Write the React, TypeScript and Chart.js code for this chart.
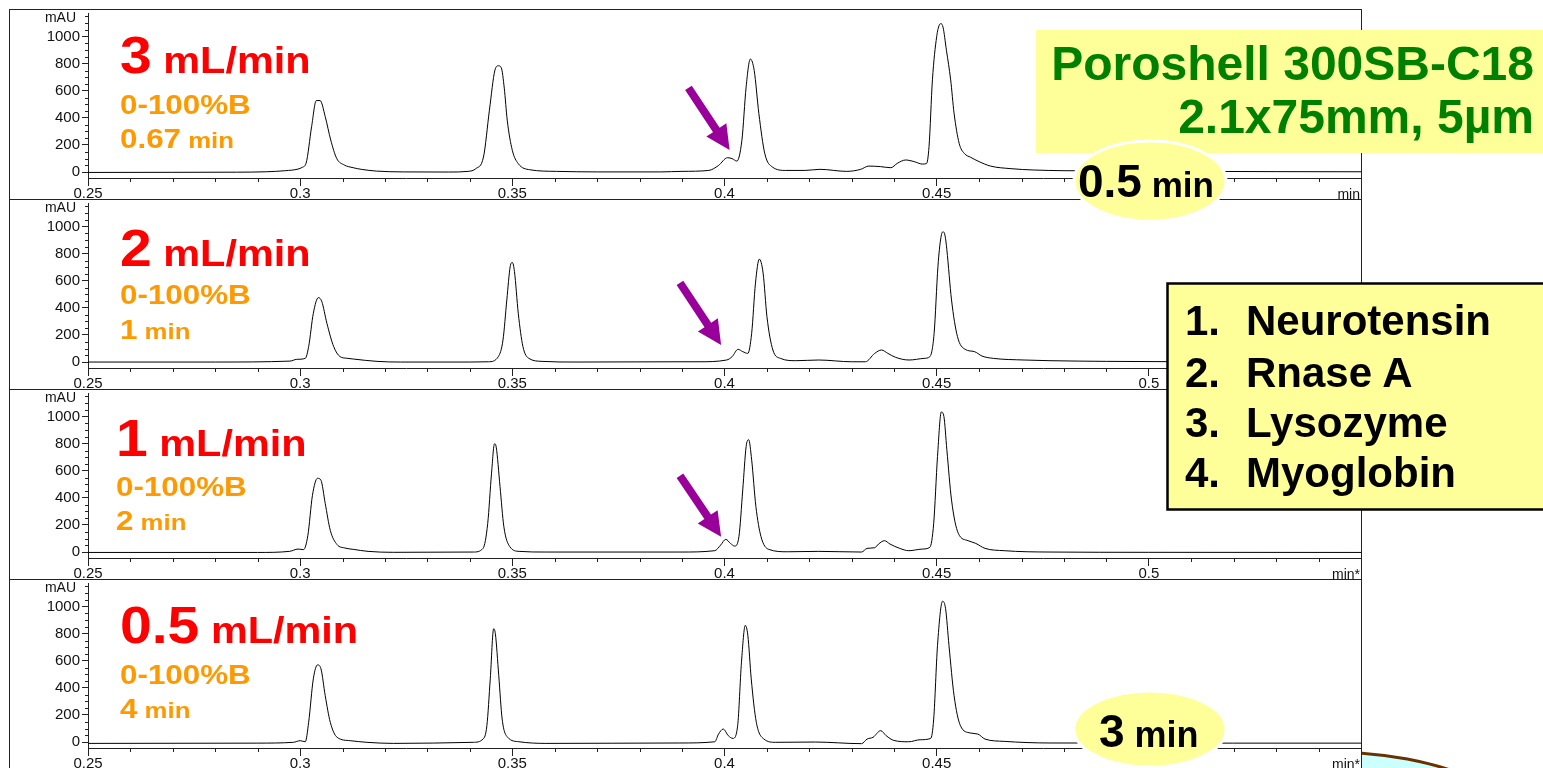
import React, { useEffect, useRef } from 'react';
import { Chart, registerables } from 'chart.js';

Chart.register(...registerables);

// ---------- data ----------
const xTickLabels = [0.25, 0.3, 0.35, 0.4, 0.45, 0.5];
const yTickLabels = [0, 200, 400, 600, 800, 1000];
const xMinorStep = 0.01;
const yMinorStep = 50;
const xMin = 0.25;
const xMax = 0.55;
const yMin = -44;
const yMax = 1175;
const yMinorTop = 1150;

// [time (min), signal (mAU)]
const trace3mL: number[][] = [
  [0.25, -3], [0.27, -2], [0.285, -1], [0.292, 2], [0.2965, 10], [0.2995, 22], [0.3005, 35], [0.3014, 66],
  [0.3027, 336], [0.3038, 528], [0.3047, 528], [0.3059, 410], [0.3072, 237], [0.3086, 101], [0.3104, 52],
  [0.3125, 32], [0.3144, 20], [0.318, 7], [0.3243, 1], [0.335, 0], [0.3396, 5], [0.3414, 25], [0.3432, 111],
  [0.3446, 457], [0.3459, 753], [0.3467, 785], [0.3474, 770], [0.3481, 620], [0.3488, 383], [0.35, 160],
  [0.3514, 62], [0.3541, 17], [0.3604, 5], [0.37, 1], [0.385, 1], [0.39, 5], [0.3963, 12], [0.3986, 49],
  [0.4007, 106], [0.4018, 99], [0.4029, 81], [0.4041, 235], [0.4051, 630], [0.4061, 835], [0.407, 750],
  [0.4081, 432], [0.4095, 136], [0.4113, 37], [0.4144, 12], [0.419, 12], [0.4225, 20], [0.4288, 5],
  [0.4321, 20], [0.434, 44], [0.4368, 40], [0.4392, 32], [0.4407, 64], [0.4427, 89], [0.4447, 77],
  [0.4466, 59], [0.4476, 62], [0.4482, 188], [0.449, 681], [0.45, 1000], [0.4506, 1085], [0.451, 1096],
  [0.4515, 1070], [0.4523, 900], [0.4533, 681], [0.4541, 435], [0.4553, 212], [0.4565, 138], [0.458, 109],
  [0.46, 77], [0.4627, 44], [0.4675, 25], [0.4729, 15], [0.48, 10], [0.49, 8], [0.51, 5], [0.53, 3], [0.55, 2],
];

const trace2mL: number[][] = [
  [0.25, 0], [0.28, 0], [0.2976, 7], [0.2992, 20], [0.3012, 27], [0.302, 114], [0.3031, 360], [0.3043, 476],
  [0.3051, 447], [0.3063, 286], [0.3079, 114], [0.3094, 40], [0.311, 28], [0.3126, 22], [0.3181, 5],
  [0.3236, 0], [0.34, 0], [0.3444, 2], [0.3467, 40], [0.3478, 163], [0.3487, 459], [0.3495, 706], [0.35, 736],
  [0.3505, 669], [0.3514, 360], [0.3525, 114], [0.3539, 27], [0.357, 5], [0.365, 0], [0.39, 2], [0.394, 2],
  [0.4005, 15], [0.4018, 40], [0.4032, 94], [0.4043, 77], [0.4055, 64], [0.4064, 212], [0.4073, 583],
  [0.4082, 760], [0.4091, 657], [0.41, 336], [0.4114, 89], [0.4132, 27], [0.4168, 10], [0.4222, 15],
  [0.43, 2], [0.4332, 2], [0.4354, 64], [0.437, 89], [0.4385, 64], [0.4403, 35], [0.4435, 15], [0.447, 27],
  [0.4484, 40], [0.4494, 212], [0.4503, 706], [0.451, 920], [0.4515, 963], [0.452, 930], [0.4524, 830],
  [0.4535, 459], [0.4549, 188], [0.4567, 94], [0.4589, 77], [0.4607, 44], [0.4634, 27], [0.4706, 15],
  [0.4767, 10], [0.49, 5], [0.51, 2], [0.55, 0],
];

const trace1mL: number[][] = [
  [0.25, -3], [0.29, -3], [0.2975, 5], [0.2995, 22], [0.3008, 18], [0.3018, 120], [0.3029, 420],
  [0.3041, 545], [0.3049, 530], [0.3059, 360], [0.3071, 160], [0.3087, 55], [0.3105, 30], [0.3125, 20],
  [0.316, 5], [0.322, -2], [0.3408, 0], [0.3431, 27], [0.3442, 212], [0.3451, 583], [0.3458, 800],
  [0.3462, 775], [0.3471, 484], [0.348, 188], [0.3494, 40], [0.3516, 5], [0.3579, 0], [0.3895, 0],
  [0.3977, 10], [0.3991, 52], [0.4003, 94], [0.4014, 64], [0.4024, 44], [0.4034, 114], [0.4043, 459],
  [0.4051, 780], [0.4057, 830], [0.4064, 681], [0.4074, 336], [0.4086, 114], [0.4104, 20], [0.4149, 2],
  [0.4221, 5], [0.4323, 0], [0.4336, 27], [0.4354, 32], [0.4363, 59], [0.4377, 84], [0.439, 59],
  [0.4413, 27], [0.4434, 10], [0.4466, 22], [0.4484, 35], [0.4493, 212], [0.4502, 706], [0.4511, 1035],
  [0.4517, 1002], [0.4524, 756], [0.4535, 385], [0.4551, 138], [0.4574, 84], [0.4592, 64], [0.4614, 27],
  [0.4659, 10], [0.4767, 0], [0.5, -2], [0.55, -3],
];

const trace05mL: number[][] = [
  [0.25, -10], [0.29, -8], [0.2984, -2], [0.3, 10], [0.3012, 2], [0.302, 146], [0.3031, 467], [0.3041, 570],
  [0.3049, 541], [0.3059, 343], [0.3071, 146], [0.3087, 35], [0.3118, 10], [0.3157, -2], [0.322, -10],
  [0.3408, -2], [0.3431, 22], [0.344, 121], [0.3448, 467], [0.3456, 837], [0.346, 800], [0.3468, 491],
  [0.3476, 170], [0.3489, 35], [0.3516, 2], [0.3579, -10], [0.3895, -7], [0.3977, 2], [0.3986, 59],
  [0.3997, 96], [0.4009, 47], [0.402, 27], [0.4031, 121], [0.404, 590], [0.4049, 862], [0.4055, 788],
  [0.4063, 467], [0.4075, 146], [0.4093, 22], [0.412, -2], [0.4214, 0], [0.4323, -12], [0.4336, 22],
  [0.435, 35], [0.4368, 84], [0.4381, 47], [0.4399, 12], [0.4434, 2], [0.4461, 17], [0.4486, 27],
  [0.4493, 170], [0.4502, 714], [0.4514, 1040], [0.4521, 985], [0.4529, 714], [0.4541, 343], [0.4556, 121],
  [0.4579, 67], [0.4597, 59], [0.4614, 22], [0.4659, 5], [0.4767, -7], [0.52, -8], [0.55, -8],
];

// purple arrows: [tail, tip] in (time, mAU)
const arrow3mL: number[][] = [[0.3915, 622], [0.4012, 163]];
const arrow2mL: number[][] = [[0.3895, 585], [0.3992, 126]];
const arrow1mL: number[][] = [[0.3895, 563], [0.3992, 113]];

const flowRates = ['3', '2', '1', '0.5'];
const gradientTimes = ['0.67', '1', '2', '4'];
const gradientLabel = '0-100%B';
const timeUnits = ['min', 'min*', 'min*', 'min*'];
const compounds = ['Neurotensin', 'Rnase A', 'Lysozyme', 'Myoglobin'];
const columnLines = ['Poroshell 300SB-C18', '2.1x75mm, 5µm'];
const runTimes = ['0.5', '3'];

const traces = [trace3mL, trace2mL, trace1mL, trace05mL];
const arrows = [arrow3mL, arrow2mL, arrow1mL, null];

// ---------- layout ----------
const FONT = "'Liberation Sans', Arial, Helvetica, sans-serif";
const PANEL_H = 190;
const CANVAS_W = 1351;
const CANVAS_H = 189;
const textLeft = [120, 120, 116, 120];
const textBaselines = [[73, 114, 148], [266, 304, 339], [456, 496, 530], [643, 684, 718]];

const near = (a: number, b: number) => Math.abs(a - b) < 1e-6;
const isMajorX = (v: number) => xTickLabels.some((t) => near(t, v));
const isMajorY = (v: number) => yTickLabels.some((t) => near(t, v));

const stepTicks = (min: number, max: number, step: number) => {
  const out: { value: number }[] = [];
  const n = Math.round((max - min) / step);
  for (let i = 0; i <= n; i++) out.push({ value: +(min + i * step).toFixed(6) });
  return out;
};

const extrasPlugin = {
  id: 'extras',
  afterDraw(chart: any) {
    const ctx = chart.ctx;
    const xs = chart.scales.x;
    const ys = chart.scales.y;
    const area = chart.chartArea;
    const opts = chart.options.plugins.extras || {};
    ctx.save();
    ctx.strokeStyle = '#222';
    ctx.lineWidth = 1;
    ctx.beginPath();
    xs.ticks.forEach((t: any) => {
      if (!isMajorX(t.value)) {
        const px = Math.round(xs.getPixelForValue(t.value)) + 0.5;
        ctx.moveTo(px, area.bottom);
        ctx.lineTo(px, area.bottom + 4);
      }
    });
    ys.ticks.forEach((t: any) => {
      if (!isMajorY(t.value)) {
        const py = Math.round(ys.getPixelForValue(t.value)) + 0.5;
        ctx.moveTo(area.left - 3, py);
        ctx.lineTo(area.left, py);
      }
    });
    ctx.stroke();

    ctx.fillStyle = '#111';
    ctx.font = `14px ${FONT}`;
    ctx.textAlign = 'right';
    ctx.textBaseline = 'middle';
    ctx.fillText('mAU', area.left - 12, area.top + 5);
    ctx.fillText(opts.unit || 'min', area.right - 1, area.bottom + 17);

    const arrow = opts.arrow;
    if (arrow) {
      const x0 = xs.getPixelForValue(arrow[0][0]);
      const y0 = ys.getPixelForValue(arrow[0][1]);
      const x1 = xs.getPixelForValue(arrow[1][0]);
      const y1 = ys.getPixelForValue(arrow[1][1]);
      const dx = x1 - x0;
      const dy = y1 - y0;
      const len = Math.hypot(dx, dy);
      const ux = dx / len;
      const uy = dy / len;
      const nx = -uy;
      const ny = ux;
      const hl = 24;
      const hw = 12;
      const sw = 4;
      const bx = x1 - ux * hl;
      const by = y1 - uy * hl;
      ctx.fillStyle = '#990099';
      ctx.beginPath();
      ctx.moveTo(x0 + nx * sw, y0 + ny * sw);
      ctx.lineTo(bx + nx * sw, by + ny * sw);
      ctx.lineTo(bx + nx * hw, by + ny * hw);
      ctx.lineTo(x1, y1);
      ctx.lineTo(bx - nx * hw, by - ny * hw);
      ctx.lineTo(bx - nx * sw, by - ny * sw);
      ctx.lineTo(x0 - nx * sw, y0 - ny * sw);
      ctx.closePath();
      ctx.fill();
    }
    ctx.restore();
  },
};

function Panel({ index }: { index: number }) {
  const ref = useRef<HTMLCanvasElement | null>(null);
  useEffect(() => {
    if (!ref.current) return;
    const tickFont = { family: FONT, size: 15 };
    const chart = new Chart(ref.current, {
      type: 'line',
      data: {
        datasets: [
          {
            data: traces[index].map(([x, y]) => ({ x, y })),
            borderColor: '#000',
            borderWidth: 1,
            pointRadius: 0,
            cubicInterpolationMode: 'monotone',
            fill: false,
          },
        ],
      },
      options: {
        animation: false,
        responsive: false,
        maintainAspectRatio: false,
        devicePixelRatio: 1,
        layout: { padding: { top: 3, left: 0, right: 0, bottom: 0 } },
        plugins: {
          legend: { display: false },
          tooltip: { enabled: false },
          extras: { unit: timeUnits[index], arrow: arrows[index] },
        } as any,
        scales: {
          x: {
            type: 'linear',
            min: xMin,
            max: xMax,
            afterBuildTicks: (s: any) => {
              s.ticks = stepTicks(xMin, xMax, xMinorStep);
            },
            afterFit: (s: any) => {
              s.height = 21;
              s.paddingLeft = 0;
              s.paddingRight = 0;
            },
            border: { display: true, color: '#222', width: 1 },
            grid: {
              drawOnChartArea: false,
              drawTicks: true,
              tickLength: 8,
              tickColor: (c: any) => (c.tick && isMajorX(c.tick.value) ? '#222' : 'rgba(0,0,0,0)'),
            },
            ticks: {
              autoSkip: false,
              maxRotation: 0,
              minRotation: 0,
              padding: -1,
              color: '#111',
              font: tickFont,
              callback: (v: any) => {
                const m = xTickLabels.find((t) => near(t, Number(v)));
                return m === undefined ? '' : String(m);
              },
            },
          },
          y: {
            type: 'linear',
            min: yMin,
            max: yMax,
            afterBuildTicks: (s: any) => {
              s.ticks = stepTicks(0, yMinorTop, yMinorStep);
            },
            afterFit: (s: any) => {
              s.width = 78;
              s.paddingTop = 0;
              s.paddingBottom = 0;
            },
            border: { display: true, color: '#222', width: 1 },
            grid: {
              drawOnChartArea: false,
              drawTicks: true,
              tickLength: 6,
              tickColor: (c: any) => (c.tick && isMajorY(c.tick.value) ? '#222' : 'rgba(0,0,0,0)'),
            },
            ticks: {
              autoSkip: false,
              padding: 2,
              color: '#111',
              font: tickFont,
              callback: (v: any) => {
                const m = yTickLabels.find((t) => near(t, Number(v)));
                return m === undefined ? '' : String(m);
              },
            },
          },
        },
      } as any,
      plugins: [extrasPlugin],
    });
    return () => chart.destroy();
  }, [index]);

  return (
    <div
      style={{
        position: 'relative',
        height: PANEL_H,
        boxSizing: 'border-box',
        borderBottom: '1px solid #222',
        background: '#fff',
      }}
    >
      <canvas ref={ref} width={CANVAS_W} height={CANVAS_H} style={{ display: 'block' }} />
    </div>
  );
}

function PanelLabels({ index }: { index: number }) {
  const left = textLeft[index];
  const [b1, b2, b3] = textBaselines[index];
  const sx = 'scale(1.12,1)';
  return (
    <g fontFamily={FONT} fontWeight="bold">
      <g transform={`translate(${left},${b1}) ${sx}`}>
        <text x={0} y={0} fill="#FF0000">
          <tspan fontSize={51}>{flowRates[index]}</tspan>
          <tspan fontSize={37}>{' mL/min'}</tspan>
        </text>
      </g>
      <g transform={`translate(${left},${b2}) ${sx}`}>
        <text x={0} y={0} fill="#FF9900" fontSize={28}>
          {gradientLabel}
        </text>
      </g>
      <g transform={`translate(${left},${b3}) ${sx}`}>
        <text x={0} y={0} fill="#FF9900">
          <tspan fontSize={28}>{gradientTimes[index]}</tspan>
          <tspan fontSize={23}>{' min'}</tspan>
        </text>
      </g>
    </g>
  );
}

export default function App() {
  const legendBaselines = [335, 387, 437, 487];
  return (
    <div
      style={{
        position: 'fixed',
        left: 0,
        top: 0,
        width: 1543,
        height: 768,
        overflow: 'hidden',
        background: '#fff',
      }}
    >
      <div
        style={{
          position: 'absolute',
          left: 9,
          top: 9,
          width: CANVAS_W,
          height: 4 * PANEL_H,
          borderLeft: '1px solid #222',
          borderRight: '1px solid #222',
          borderTop: '1px solid #222',
          background: '#fff',
        }}
      >
        {[0, 1, 2, 3].map((i) => (
          <Panel key={i} index={i} />
        ))}
      </div>

      <svg
        width={1543}
        height={768}
        style={{ position: 'absolute', left: 0, top: 0, pointerEvents: 'none' }}
      >
        <defs>
          <clipPath id="rightOfFrame">
            <rect x={1362} y={0} width={200} height={768} />
          </clipPath>
        </defs>
        <g clipPath="url(#rightOfFrame)">
          <ellipse cx={1330} cy={852} rx={210} ry={100} fill="#CCFFFF" stroke="#663300" strokeWidth={3} />
          <ellipse cx={1510} cy={769} rx={22} ry={7} fill="#ffffff" opacity={0.9} />
        </g>

        {[0, 1, 2, 3].map((i) => (
          <PanelLabels key={i} index={i} />
        ))}

        <rect x={1036} y={30} width={600} height={123} fill="#FFFF99" />
        <g fontFamily={FONT} fontWeight="bold" fill="#008000" fontSize={48} textAnchor="end">
          <text x={1534} y={80}>{columnLines[0]}</text>
          <text x={1534} y={133}>{columnLines[1]}</text>
        </g>

        <ellipse cx={1150} cy={181} rx={76} ry={40} fill="#FFFF99" stroke="#ffffff" strokeWidth={3} />
        <text x={1078} y={197} fontFamily={FONT} fontWeight="bold" fill="#000">
          <tspan fontSize={46}>{runTimes[0]}</tspan>
          <tspan fontSize={35}>{' min'}</tspan>
        </text>

        <rect x={1167.5} y={283.5} width={400} height={226} fill="#FFFF99" stroke="#000" strokeWidth={2.5} />
        <g fontFamily={FONT} fontWeight="bold" fill="#000" fontSize={42}>
          {compounds.map((c, i) => (
            <g key={c}>
              <text x={1185} y={legendBaselines[i]}>{`${i + 1}.`}</text>
              <text x={1246} y={legendBaselines[i]}>{c}</text>
            </g>
          ))}
        </g>

        <ellipse cx={1150} cy={729} rx={76} ry={38} fill="#FFFF99" stroke="#ffffff" strokeWidth={3} />
        <text x={1099} y={747} fontFamily={FONT} fontWeight="bold" fill="#000">
          <tspan fontSize={46}>{runTimes[1]}</tspan>
          <tspan fontSize={36}>{' min'}</tspan>
        </text>
      </svg>
    </div>
  );
}
